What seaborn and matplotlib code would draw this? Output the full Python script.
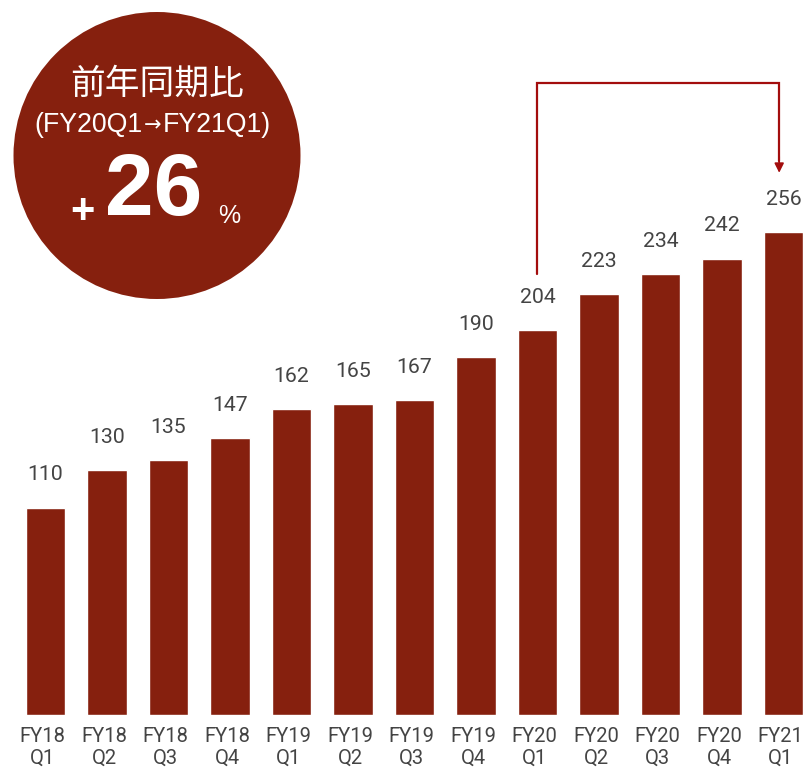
import matplotlib
matplotlib.use("Agg")
import matplotlib.pyplot as plt
import seaborn as sns
import pandas as pd
from matplotlib.patches import Circle
from matplotlib.transforms import IdentityTransform, ScaledTranslation

categories = ["FY18\nQ1", "FY18\nQ2", "FY18\nQ3", "FY18\nQ4", "FY19\nQ1", "FY19\nQ2",
              "FY19\nQ3", "FY19\nQ4", "FY20\nQ1", "FY20\nQ2", "FY20\nQ3", "FY20\nQ4", "FY21\nQ1"]
values = [110, 130, 135, 147, 162, 165, 167, 190, 204, 223, 234, 242, 256]
growth_title = "前年同期比"
period_from = "(FY20Q1"
period_arrow = "→"
period_to = "FY21Q1)"
growth_value = "26"

BAR = "#86200E"
ARROW = "#A30D0D"
TXT = "#444444"

sns.set_theme(style="white")
plt.rcParams["font.family"] = ["Roboto", "Noto Sans CJK JP", "DejaVu Sans"]

W, H = 804, 771
fig = plt.figure(figsize=(W / 100, H / 100), dpi=100)
base_px = 715
ax = fig.add_axes([0, (H - base_px) / H, 1, base_px / H])

df = pd.DataFrame({"cat": categories, "val": values})
sns.barplot(data=df, x="cat", y="val", color=BAR, saturation=1, width=0.642, ax=ax)

px_per_unit = 1.886
ax.set_ylim(0, base_px / px_per_unit)
ax.set_xlim(-45.5 / 61.5, (W - 45.5) / 61.5)
for s in ax.spines.values():
    s.set_visible(False)
ax.set_yticks([])
ax.set_xlabel("")
ax.set_ylabel("")
ax.tick_params(axis="x", length=0, pad=9, labelsize=14.5, labelcolor=TXT)
shift = ScaledTranslation(-3 / 100, 0, fig.dpi_scale_trans)
for lab in ax.get_xticklabels():
    lab.set_linespacing(1.14)
    lab.set_transform(lab.get_transform() + shift)

for i, v in enumerate(values):
    ax.annotate(str(v), (i, v), xytext=(0, 23.5), textcoords="offset points",
                ha="center", va="center", fontsize=15.3, color=TXT)

# arrow from FY20Q1 to FY21Q1
i0, i1 = 8, 12
y_top = 335
ax.plot([i0, i0, i1 - 0.07, i1 - 0.07], [values[i0] + 30, y_top, y_top, values[i1] + 38],
        color=ARROW, lw=1.6, solid_joinstyle="miter", clip_on=False)
ax.annotate("", xy=(i1 - 0.07, values[i1] + 31.5), xytext=(i1 - 0.07, values[i1] + 40),
            arrowprops=dict(arrowstyle="-|>", color=ARROW, lw=1.2,
                            mutation_scale=14, shrinkA=0, shrinkB=0))

# circle badge
cx, cy, r = 157, 155.5, 143.5
circ = Circle((cx, H - cy), r, transform=IdentityTransform(), facecolor=BAR,
              edgecolor="none", zorder=0)
fig.patches.append(circ)

def fx(x):
    return x / W

def fy(y):
    return 1 - y / H

fig.text(fx(157), fy(84), growth_title, ha="center", va="center", color="white",
         fontsize=25, family=["Noto Sans CJK JP", "DejaVu Sans"])
fig.text(fx(143), fy(125), period_from, ha="right", va="center", color="white",
         fontsize=19.3, family=["Liberation Sans", "DejaVu Sans"])
fig.text(fx(153), fy(125), period_arrow, ha="center", va="center", color="white",
         fontsize=15, family=["DejaVu Sans"])
fig.text(fx(163), fy(125), period_to, ha="left", va="center", color="white",
         fontsize=19.3, family=["Liberation Sans", "DejaVu Sans"])
fig.text(fx(154), fy(193), growth_value, ha="center", va="center", color="white",
         fontsize=63, fontweight="bold", family=["Liberation Sans", "DejaVu Sans"])
fig.text(fx(82), fy(212), "+", ha="center", va="center", color="white",
         fontsize=30, fontweight="bold", family=["Liberation Sans", "DejaVu Sans"])
fig.text(fx(229), fy(216), "%", ha="center", va="center", color="white",
         fontsize=18, family=["Liberation Sans", "DejaVu Sans"])

fig.savefig("out.png", dpi=100)
